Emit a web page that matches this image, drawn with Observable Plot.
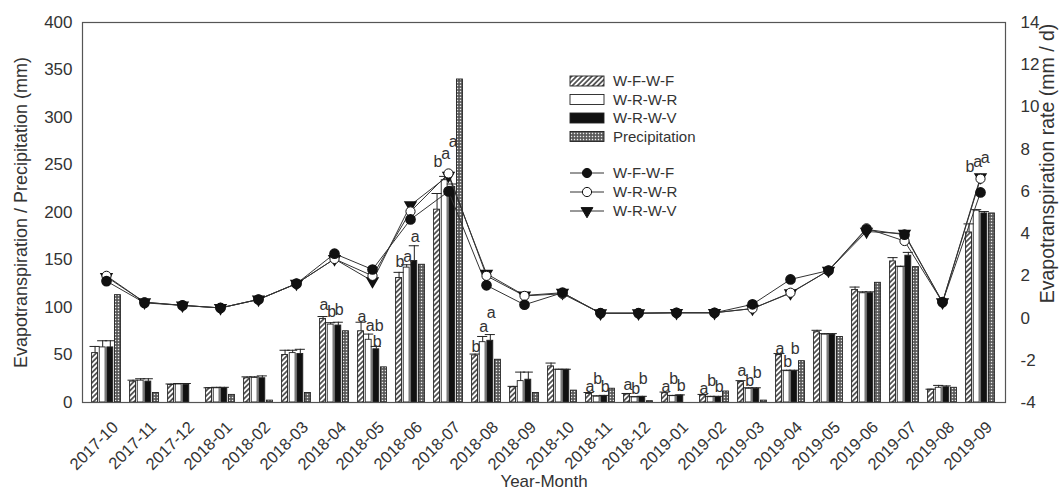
<!DOCTYPE html>
<html><head><meta charset="utf-8">
<script src="https://cdn.jsdelivr.net/npm/d3@7"></script>
<script src="https://cdn.jsdelivr.net/npm/@observablehq/plot@0.6"></script>
<style>body{margin:0;background:#fff} svg{display:block}</style>
</head><body><div id="chart"></div>
<script>
const months = ["2017-10","2017-11","2017-12","2018-01","2018-02","2018-03","2018-04","2018-05","2018-06","2018-07","2018-08","2018-09","2018-10","2018-11","2018-12","2019-01","2019-02","2019-03","2019-04","2019-05","2019-06","2019-07","2019-08","2019-09"];
// monthly evapotranspiration (mm)
const etWFWF = [52,22,18.5,15,25.5,50,88,75,131,203,49.5,16,38,9,8.4,9.8,7.4,21.5,50,74,118.5,148.5,13.5,179];
const etWRWR = [58,23,19,15,26,52,82,66,142,234,63.5,22.5,34.5,6.3,5.6,6.7,5.6,14.5,33,71.5,115,142.5,15.5,202];
const etWRWV = [58,22,18.5,15,25.5,51,81,56,149,227,65,24,34.5,6.7,5.9,7.4,5.6,14.5,33,71.5,115,154.5,16,199];
const precip = [113,10,0,8,2,10,75,37,145,340,45,10,12.5,14.5,1.4,0,11.6,2,43.5,69,126,142.5,15.5,199];
// top of error bars (mm)
const errWFWF = [59,23.5,19.5,15.5,27,55,90.5,84.5,137,220,51,17,41.5,10.5,9.5,11,8.5,23,51.5,76,121.5,152.5,14,188];
const errWRWR = [65,25,20,16,27,55,84,72,145,238,69.5,32,35,7,6,7.5,6.5,15.5,34,72.5,116.5,143.5,18,203];
const errWRWV = [65,25,20,16,28,56,84.5,59,165,230,71.5,32,35,7.5,6.5,8,6.5,15.5,34,72.5,116.5,158,17.5,201];
// evapotranspiration rate (mm / d)
const rateWFWF = [1.75,0.72,0.6,0.48,0.88,1.63,3.05,2.3,4.67,6.0,1.55,0.63,1.2,0.23,0.23,0.25,0.25,0.65,1.83,2.25,4.2,3.95,0.75,5.95];
const rateWRWR = [2.0,0.75,0.6,0.48,0.88,1.63,2.8,2.0,5.05,6.85,2.0,1.05,1.15,0.23,0.23,0.25,0.25,0.45,1.2,2.25,4.25,3.65,0.75,6.6];
const rateWRWV = [1.95,0.75,0.6,0.48,0.88,1.63,2.8,1.75,5.35,6.75,2.1,1.07,1.2,0.23,0.23,0.25,0.25,0.45,1.18,2.25,4.1,4.0,0.75,6.68];
const leftTicks = [0,50,100,150,200,250,300,350,400];
const rightTicks = [-4,-2,0,2,4,6,8,10,12,14];
// significance letters: month, bar index (0 W-F-W-F, 1 W-R-W-R, 2 W-R-W-V), letter, height (mm)
const sigMonth = ["2018-04","2018-04","2018-04","2018-05","2018-05","2018-05","2018-06","2018-06","2018-06","2018-07","2018-07","2018-07","2018-08","2018-08","2018-08","2018-11","2018-11","2018-11","2018-12","2018-12","2018-12","2019-01","2019-01","2019-01","2019-02","2019-02","2019-02","2019-03","2019-03","2019-03","2019-04","2019-04","2019-04","2019-09","2019-09","2019-09"];
const sigBar = [0,1,2,0,1,2,0,1,2,0,1,2,0,1,2,0,1,2,0,1,2,0,1,2,0,1,2,0,1,2,0,1,2,0,1,2];
const sigText = ["a","b","b","a","ab","b","b","a","a","b","a","a","b","a","a","a","b","b","a","b","b","a","b","b","a","b","b","a","b","b","a","b","b","b","a","a"];
const sigY = [103,95,98,90,81,63.5,148,153,174,253,262,274,59,80,94,16,25,16,19,14.5,25,16,25,18,14.5,23,16,33,23,31.5,56.5,43,56.5,248,253,258];

const W = 1062, H = 491, ML = 82, MR = 57, MT = 22, MB = 89;
const toMM = r => (r + 4) * 400 / 18;
const xb = d3.scaleBand(months, [ML, W - MR]).padding(0.2);
const sub = xb.bandwidth() / 4;
const off = i => (i - 1.5) * sub;

const table = months.map((m, i) => ({month: m,
  F: etWFWF[i], R: etWRWR[i], V: etWRWV[i], P: precip[i],
  eF: errWFWF[i], eR: errWRWR[i], eV: errWRWV[i],
  rF: rateWFWF[i], rR: rateWRWR[i], rV: rateWRWV[i]}));
const letters = sigMonth.map((m, i) => ({month: m, bar: sigBar[i], t: sigText[i], y: sigY[i]}));

const bars = [
  {key: "F", err: "eF", fill: "url(#hatchF)"},
  {key: "R", err: "eR", fill: "#ffffff"},
  {key: "V", err: "eV", fill: "#111111"},
  {key: "P", fill: "url(#precipP)"}
];
const ink = "#222";
const marks = [];
bars.forEach((s, i) => {
  marks.push(Plot.barY(table, {x: "month", y: s.key, fill: s.fill, stroke: ink, strokeWidth: 0.9,
    insetLeft: i * sub + 0.6, insetRight: (3 - i) * sub + 0.6}));
});
bars.slice(0, 3).forEach((s, i) => {
  marks.push(Plot.ruleX(table, {x: "month", y1: s.key, y2: s.err, dx: off(i), stroke: ink, strokeWidth: 1}));
  marks.push(Plot.tickY(table, {x: "month", y: s.err, stroke: ink, strokeWidth: 1,
    insetLeft: i * sub - 1.5, insetRight: (3 - i) * sub - 1.5}));
});
marks.push(
  Plot.line(table, {x: "month", y: d => toMM(d.rV), stroke: "#333", strokeWidth: 1}),
  Plot.line(table, {x: "month", y: d => toMM(d.rR), stroke: "#333", strokeWidth: 1}),
  Plot.line(table, {x: "month", y: d => toMM(d.rF), stroke: "#333", strokeWidth: 1}),
  Plot.dot(table, {x: "month", y: d => toMM(d.rV), symbol: "triangle", rotate: 180, r: 4, fill: "#111", stroke: "#111"}),
  Plot.dot(table, {x: "month", y: d => toMM(d.rR), r: 4.6, fill: "#fff", stroke: "#111", strokeWidth: 1}),
  Plot.dot(table, {x: "month", y: d => toMM(d.rF), r: 4.6, fill: "#111", stroke: "#111"})
);
[0, 1, 2].forEach(i => {
  marks.push(Plot.text(letters.filter(d => d.bar === i && d.t.length === 1), {x: "month", y: "y", text: "t", dx: off(i) + 1,
    fontSize: 16, fill: "#333", lineAnchor: "middle"}));
  marks.push(Plot.text(letters.filter(d => d.bar === i && d.t.length > 1), {x: "month", y: "y", text: "t", dx: off(i) + 6,
    fontSize: 16, fill: "#333", lineAnchor: "middle"}));
});
marks.push(
  Plot.frame({stroke: "#555", strokeWidth: 1.2}),
  Plot.axisY({ticks: leftTicks, tickSize: 0, tickPadding: 10, fontSize: 17, label: null, fill: "#333"}),
  Plot.axisY({anchor: "right", ticks: rightTicks.map(toMM), tickFormat: d => String(Math.round(d * 18 / 400 - 4)),
    tickSize: 0, tickPadding: 15, fontSize: 17, label: null, fill: "#333"}),
  Plot.axisX({tickRotate: -45, tickSize: 0, tickPadding: 22, dx: 9, fontSize: 16.5, label: null, fill: "#333"}),
  Plot.text(["Evapotranspiration / Precipitation (mm)"], {text: d => d, frameAnchor: "left", textAnchor: "middle", dx: -61, rotate: -90, fontSize: 18, fill: "#333"}),
  Plot.text(["Evapotranspiration rate (mm / d)"], {text: d => d, frameAnchor: "right", textAnchor: "middle", dx: 42, dy: -49, rotate: -90, fontSize: 19.5, fill: "#333"}),
  Plot.text(["Year-Month"], {text: d => d, frameAnchor: "bottom", dy: 84, fontSize: 17, fill: "#333"})
);

const svg = Plot.plot({
  width: W, height: H, marginLeft: ML, marginRight: MR, marginTop: MT, marginBottom: MB,
  style: {fontFamily: "'Liberation Sans', Arial, sans-serif", background: "#fff", color: "#333"},
  x: {domain: months, padding: 0.2, axis: null},
  y: {domain: [0, 400], axis: null},
  marks
});

const s = d3.select(svg);
s.insert("defs", ":first-child").html(`
  <pattern id="hatchF" width="3.6" height="3.6" patternUnits="userSpaceOnUse" patternTransform="rotate(45)">
    <rect width="3.6" height="3.6" fill="#fff"/>
    <line x1="0.9" y1="0" x2="0.9" y2="3.6" stroke="#333" stroke-width="1.5"/>
  </pattern>
  <pattern id="precipP" width="3" height="3" patternUnits="userSpaceOnUse">
    <rect width="3" height="3" fill="#555"/>
    <rect x="0.8" y="0.8" width="1.4" height="1.4" fill="#eee"/>
  </pattern>`);

// legend
const lg = s.append("g").attr("font-size", 15).attr("fill", "#333").attr("text-anchor", "start")
  .attr("font-family", "'Liberation Sans', Arial, sans-serif");
const barLeg = [["W-F-W-F", "url(#hatchF)"], ["W-R-W-R", "#fff"], ["W-R-W-V", "#111"], ["Precipitation", "url(#precipP)"]];
barLeg.forEach(([name, fill], i) => {
  const cy = 81 + i * 18.5;
  lg.append("rect").attr("x", 570).attr("y", cy - 5).attr("width", 34).attr("height", 10)
    .attr("fill", fill).attr("stroke", ink).attr("stroke-width", 0.9);
  lg.append("text").attr("x", 613).attr("y", cy).attr("dy", "0.35em").attr("text-anchor", "start").text(name);
});
const lineLeg = [["W-F-W-F", "circle", "#111"], ["W-R-W-R", "circle", "#fff"], ["W-R-W-V", "tri", "#111"]];
lineLeg.forEach(([name, sym, fill], i) => {
  const cy = 173 + i * 19;
  lg.append("line").attr("x1", 570).attr("x2", 604).attr("y1", cy).attr("y2", cy).attr("stroke", "#333");
  if (sym === "circle") lg.append("circle").attr("cx", 587).attr("cy", cy).attr("r", 4.6).attr("fill", fill).attr("stroke", "#111");
  else lg.append("path").attr("transform", `translate(587,${cy}) rotate(180)`)
    .attr("d", d3.symbol(d3.symbolTriangle, 60)()).attr("fill", fill).attr("stroke", "#111");
  lg.append("text").attr("x", 613).attr("y", cy).attr("dy", "0.35em").attr("text-anchor", "start").text(name);
});

document.getElementById("chart").appendChild(svg);
</script>
</body></html>
